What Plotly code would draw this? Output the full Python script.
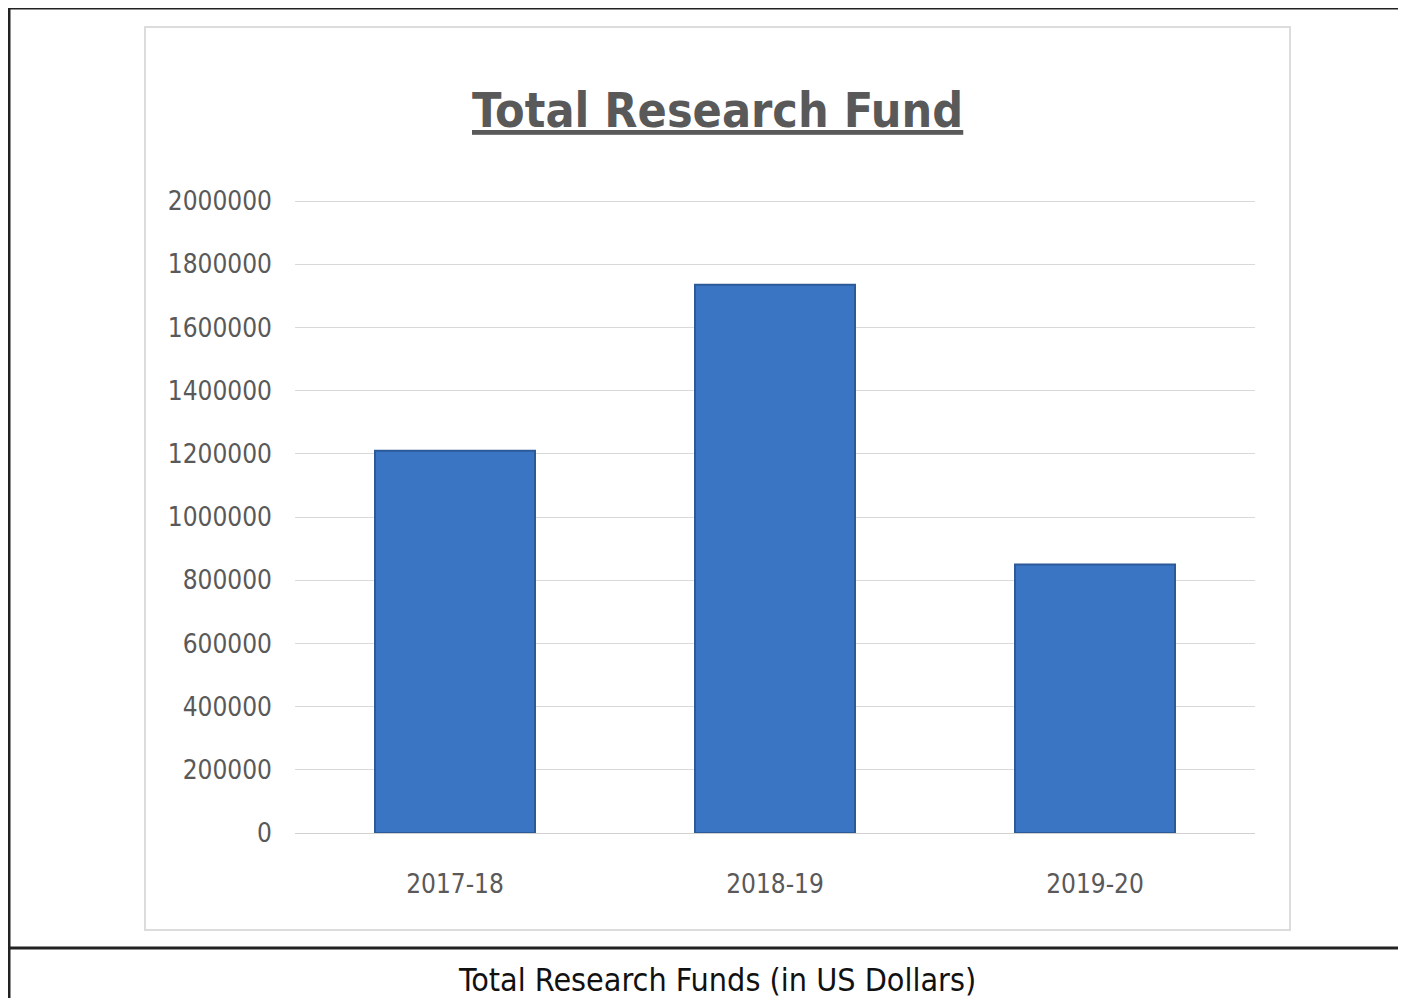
import plotly.graph_objects as go

categories = ["2017-18", "2018-19", "2019-20"]
funds = [1210000, 1735000, 850000]
y_ticks = [0, 200000, 400000, 600000, 800000, 1000000, 1200000, 1400000, 1600000, 1800000, 2000000]
title_text = "Total Research Fund"
caption_text = "Total Research Funds (in US Dollars)"

W, H = 1390, 990
ML, MR, MT, MB = 287, 143, 190, 165
PW = W - ML - MR
PH = H - MT - MB

def px(fx):
    return (fx - ML) / PW

def py(fy):
    return (H - MB - fy) / PH

font_family = "Liberation Sans Narrow, DejaVu Sans Condensed, Roboto, sans-serif"

fig = go.Figure()
fig.add_trace(go.Bar(
    x=categories, y=funds,
    marker=dict(color="#3a75c4", line=dict(color="#2c5a99", width=2)),
    width=0.5,
))

shapes = [
    dict(type="rect", xref="paper", yref="paper", x0=px(137), x1=px(1282), y0=py(922), y1=py(19),
         line=dict(color="#dcdcdc", width=2), fillcolor="rgba(0,0,0,0)", layer="below"),
    dict(type="line", xref="paper", yref="paper", x0=px(0), x1=px(W), y0=py(0), y1=py(0),
         line=dict(color="#222", width=3)),
    dict(type="line", xref="paper", yref="paper", x0=px(1), x1=px(1), y0=py(0), y1=py(H),
         line=dict(color="#222", width=3)),
    dict(type="line", xref="paper", yref="paper", x0=px(0), x1=px(W), y0=py(940), y1=py(940),
         line=dict(color="#222", width=3)),
]

annotations = [
    dict(text="<b><u>" + title_text + "</u></b>", xref="paper", yref="paper",
         x=px(709), y=py(102), showarrow=False, xanchor="center", yanchor="middle",
         font=dict(family=font_family, size=48, color="#595959")),
    dict(text=caption_text, xref="paper", yref="paper",
         x=px(709), y=py(972), showarrow=False, xanchor="center", yanchor="middle",
         font=dict(family=font_family, size=32, color="#111")),
]

fig.update_layout(
    width=W, height=H, autosize=False,
    margin=dict(l=ML, r=MR, t=MT, b=MB),
    paper_bgcolor="white", plot_bgcolor="white",
    showlegend=False,
    bargap=0.5,
    shapes=shapes,
    annotations=annotations,
    xaxis=dict(showgrid=False, showline=True, linecolor="#d0d0d0", linewidth=1,
               ticks="", ticklabelstandoff=28,
               tickfont=dict(family=font_family, size=26, color="#595959")),
    yaxis=dict(range=[0, 2009500], tickvals=y_ticks, ticktext=[str(v) for v in y_ticks],
               showgrid=True, gridcolor="#d9d9d9", gridwidth=1, zeroline=False,
               ticks="", ticklabelstandoff=22,
               tickfont=dict(family=font_family, size=26, color="#595959")),
)

fig.write_html("out.html")
